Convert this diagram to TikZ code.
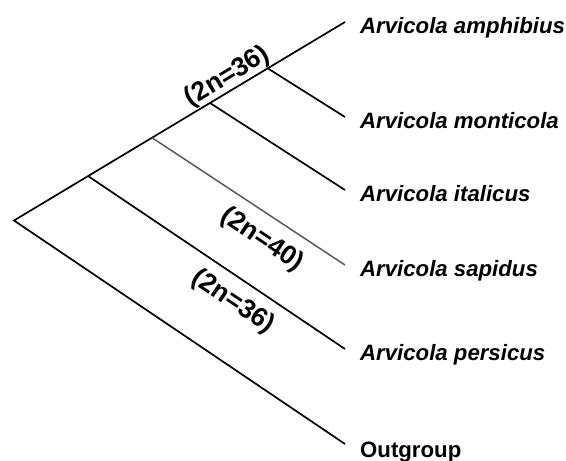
\documentclass[tikz,border=0pt]{standalone}
\usepackage{fontspec}
\setmainfont{Liberation Sans}
\begin{document}
\begin{tikzpicture}[x=1pt,y=-1pt,
  branch/.style={line width=1.7pt,black},
  graybranch/.style={line width=1.5pt,black!65},
  taxon/.style={anchor=base west,inner sep=0pt,font=\fontsize{22.2}{26}\selectfont\bfseries\itshape},
  outlabel/.style={anchor=base west,inner sep=0pt,font=\fontsize{22.2}{26}\selectfont\bfseries},
  chrom/.style={inner sep=0pt,font=\fontsize{26.5}{30}\selectfont\bfseries}]
\useasboundingbox (0,0) rectangle (566,461);
% branch points
\coordinate (R) at (14,220.5);
\coordinate (B1) at (88,176);
\coordinate (B2) at (152,137.7);
\coordinate (B3) at (210,103);
\coordinate (B4) at (268,68.5);
% tips
\coordinate (tAmph) at (345,22);
\coordinate (tMont) at (345,117);
\coordinate (tItal) at (345,190);
\coordinate (tSapi) at (345,265);
\coordinate (tPers) at (345,349);
\coordinate (tOut) at (345,444);
% branches
\draw[branch, line join=miter] (tAmph) -- (R) -- (tOut);
\draw[branch] (B4) -- (tMont);
\draw[branch] (B3) -- (tItal);
\draw[graybranch] (B2) -- (tSapi);
\draw[branch] (B1) -- (tPers);
% taxon labels
\node[taxon] (lAmph) at (360,33) {Arvicola amphibius};
\node[taxon] (lMont) at (360,128) {Arvicola monticola};
\node[taxon] (lItal) at (360,201) {Arvicola italicus};
\node[taxon] (lSapi) at (360,276) {Arvicola sapidus};
\node[taxon] (lPers) at (360,360) {Arvicola persicus};
\node[outlabel] (lOut) at (360,457) {Outgroup};
% chromosome numbers
\node[chrom, rotate=31] (c1) at (227.5,77) {(2n=36)};
\node[chrom, rotate=-33.6] (c2) at (262,240) {(2n=40)};
\node[chrom, rotate=-34] (c3) at (233,302) {(2n=36)};
\end{tikzpicture}
\end{document}
